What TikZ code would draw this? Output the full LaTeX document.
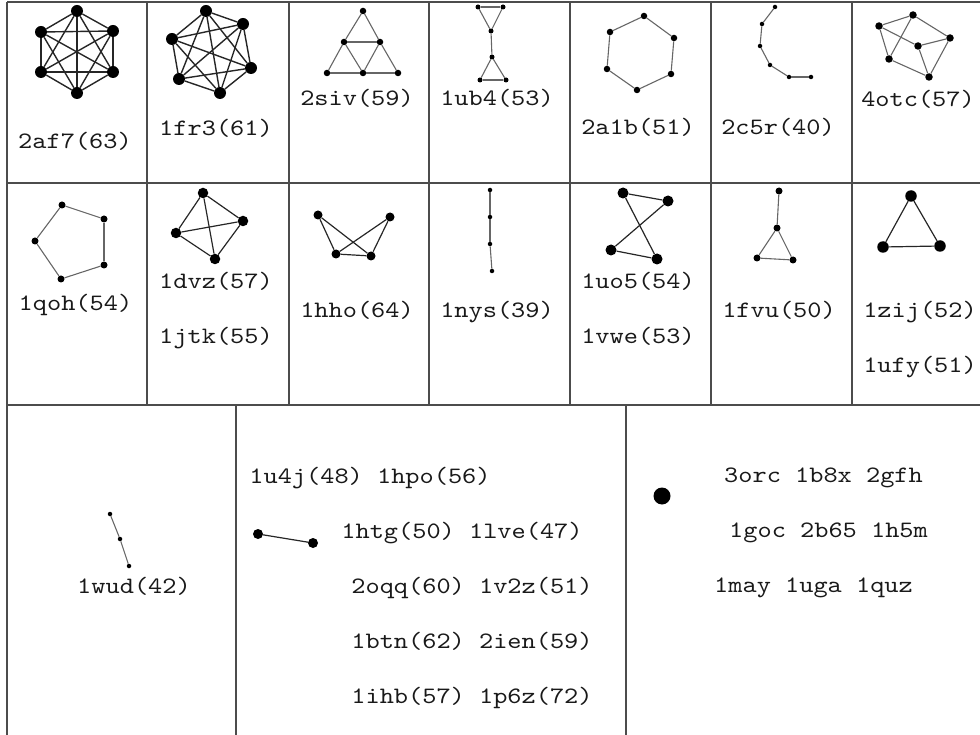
\documentclass[tikz,border=0pt]{standalone}
\usepackage{fontspec}
\newfontfamily\lblfont[FakeStretch=1.15]{lmmono10-regular.otf}
\begin{document}
\begin{tikzpicture}[x=1pt,y=-1pt,
  grid/.style={draw=black!70, line width=1.8pt},
  vx/.style={circle, fill=black, inner sep=0pt, minimum size=#1},
  ebig/.style={draw=black!85, line width=1.4pt},
  esm/.style={draw=black!60, line width=1.1pt},
  lbl/.style={font=\lblfont\fontsize{23.5}{28}\selectfont, anchor=base, inner sep=0pt, text=black!90}]
\useasboundingbox (0,0) rectangle (980,735);
% grid lines
\draw[grid] (7,2) -- (980,2);
\draw[grid] (7,183) -- (980,183);
\draw[grid] (7,405) -- (980,405);
\draw[grid] (7,2) -- (7,735);
\foreach \x in {147,289,429,570,711,852} \draw[grid] (\x,2) -- (\x,405);
\foreach \x in {236,626} \draw[grid] (\x,405) -- (\x,735);

% 2af7 K6
\node[vx=12pt] (a1) at (77,11) {};
\node[vx=12pt] (a2) at (113,31) {};
\node[vx=12pt] (a3) at (113,72) {};
\node[vx=12pt] (a4) at (77,93) {};
\node[vx=12pt] (a5) at (41,72) {};
\node[vx=12pt] (a6) at (41,32) {};
\foreach \i/\j in {1/2,1/3,1/4,1/5,1/6,2/3,2/4,2/5,2/6,3/4,3/5,3/6,4/5,4/6,5/6}
  \draw[ebig] (a\i) -- (a\j);
\node[lbl] (la) at (75,149) {2af7(63)};

% 1fr3 K6
\node[vx=12pt] (b1) at (206,11) {};
\node[vx=12pt] (b2) at (243,24) {};
\node[vx=12pt] (b3) at (251,68) {};
\node[vx=12pt] (b4) at (220,93) {};
\node[vx=12pt] (b5) at (179,79) {};
\node[vx=12pt] (b6) at (172,39) {};
\foreach \i/\j in {1/2,1/3,1/4,1/5,1/6,2/3,2/4,2/5,2/6,3/4,3/5,3/6,4/5,4/6,5/6}
  \draw[ebig] (b\i) -- (b\j);
\node[lbl] (lb) at (216,136) {1fr3(61)};

% 2siv
\node[vx=6.5pt] (c1) at (363,11) {};
\node[vx=6.5pt] (c2) at (344,42) {};
\node[vx=6.5pt] (c3) at (380,42) {};
\node[vx=6.5pt] (c4) at (327,73) {};
\node[vx=6.5pt] (c5) at (363,73) {};
\node[vx=6.5pt] (c6) at (398,73) {};
\foreach \i/\j in {1/2,1/3,2/3,2/4,2/5,3/5,3/6,4/5,5/6}
  \draw[esm] (c\i) -- (c\j);
\node[lbl] (lc) at (357,106) {2siv(59)};

% 1ub4
\node[vx=5pt] (d1) at (478,7) {};
\node[vx=5pt] (d2) at (503,7) {};
\node[vx=5pt] (d3) at (491,31) {};
\node[vx=5pt] (d4) at (492,57) {};
\node[vx=5pt] (d5) at (480,80) {};
\node[vx=5pt] (d6) at (506,80) {};
\foreach \i/\j in {1/2,1/3,2/3,3/4,4/5,4/6,5/6}
  \draw[esm] (d\i) -- (d\j);
\node[lbl] (ld) at (497,106) {1ub4(53)};

% 2a1b
\node[vx=6.5pt] (e1) at (644,16) {};
\node[vx=6.5pt] (e2) at (674,38) {};
\node[vx=6.5pt] (e3) at (671,74) {};
\node[vx=6.5pt] (e4) at (637,90) {};
\node[vx=6.5pt] (e5) at (607,69) {};
\node[vx=6.5pt] (e6) at (610,32) {};
\foreach \i/\j in {1/2,2/3,3/4,4/5,5/6,6/1}
  \draw[esm] (e\i) -- (e\j);
\node[lbl] (le) at (638,135) {2a1b(51)};

% 2c5r
\node[vx=4.5pt] (f1) at (775,7) {};
\node[vx=4.5pt] (f2) at (762,24) {};
\node[vx=4.5pt] (f3) at (760,46) {};
\node[vx=4.5pt] (f4) at (770,65) {};
\node[vx=4.5pt] (f5) at (789,77) {};
\node[vx=4.5pt] (f6) at (811,77) {};
\foreach \i/\j in {1/2,2/3,3/4,4/5,5/6}
  \draw[esm] (f\i) -- (f\j);
\node[lbl] (lf) at (778,135) {2c5r(40)};

% 4otc
\node[vx=7.5pt] (g1) at (913,15) {};
\node[vx=7.5pt] (g2) at (879,26) {};
\node[vx=7.5pt] (g3) at (950,38) {};
\node[vx=7.5pt] (g4) at (918,46) {};
\node[vx=7.5pt] (g5) at (889,59) {};
\node[vx=7.5pt] (g6) at (929,77) {};
\foreach \i/\j in {2/1,1/3,2/4,4/3,1/5,2/5,5/6,4/6,3/6}
  \draw[esm] (g\i) -- (g\j);
\node[lbl] (lg) at (918,107) {4otc(57)};

% 1qoh
\node[vx=7pt] (h1) at (62,205) {};
\node[vx=7pt] (h2) at (104,219) {};
\node[vx=7pt] (h3) at (104,265) {};
\node[vx=7pt] (h4) at (61,279) {};
\node[vx=7pt] (h5) at (35,241) {};
\foreach \i/\j in {1/2,2/3,3/4,4/5,5/1}
  \draw[esm] (h\i) -- (h\j);
\node[lbl] (lh) at (75.5,311) {1qoh(54)};

% 1dvz K4
\node[vx=10.5pt] (i1) at (203,193) {};
\node[vx=10.5pt] (i2) at (243,221) {};
\node[vx=10.5pt] (i3) at (215,259) {};
\node[vx=10.5pt] (i4) at (176,233) {};
\foreach \i/\j in {1/2,1/3,1/4,2/3,2/4,3/4}
  \draw[ebig, line width=1.2pt] (i\i) -- (i\j);
\node[lbl] (li1) at (216,289) {1dvz(57)};
\node[lbl] (li2) at (216,344) {1jtk(55)};

% 1hho
\node[vx=9pt] (j1) at (318,215) {};
\node[vx=9pt] (j2) at (390,217) {};
\node[vx=9pt] (j3) at (336,254) {};
\node[vx=9pt] (j4) at (371,256) {};
\foreach \i/\j in {1/3,1/4,2/3,2/4,3/4}
  \draw[ebig, line width=1.2pt] (j\i) -- (j\j);
\node[lbl] (lj) at (357,318) {1hho(64)};

% 1nys
\node[vx=4.5pt] (k1) at (490,190) {};
\node[vx=4.5pt] (k2) at (490,217) {};
\node[vx=4.5pt] (k3) at (490,244) {};
\node[vx=4.5pt] (k4) at (492,271) {};
\foreach \i/\j in {1/2,2/3,3/4}
  \draw[esm] (k\i) -- (k\j);
\node[lbl] (lk) at (497,318) {1nys(39)};

% 1uo5
\node[vx=11pt] (l1) at (623,193) {};
\node[vx=11pt] (l2) at (668,201) {};
\node[vx=11pt] (l3) at (611,250) {};
\node[vx=11pt] (l4) at (657,259) {};
\foreach \i/\j in {1/2,1/4,2/3,3/4}
  \draw[ebig, line width=1.2pt] (l\i) -- (l\j);
\node[lbl] (ll1) at (638,289) {1uo5(54)};
\node[lbl] (ll2) at (638,344) {1vwe(53)};

% 1fvu
\node[vx=7pt] (m1) at (779,191) {};
\node[vx=7pt] (m2) at (777,228) {};
\node[vx=7pt] (m3) at (757,258) {};
\node[vx=7pt] (m4) at (793,260) {};
\foreach \i/\j in {1/2,2/3,2/4,3/4}
  \draw[esm] (m\i) -- (m\j);
\node[lbl] (lm) at (779,318) {1fvu(50)};

% 1zij
\node[vx=11.5pt] (n1) at (911,196) {};
\node[vx=11.5pt] (n2) at (883,247) {};
\node[vx=11.5pt] (n3) at (940,246) {};
\foreach \i/\j in {1/2,2/3,3/1}
  \draw[ebig, line width=1.2pt] (n\i) -- (n\j);
\node[lbl] (ln1) at (920,318) {1zij(52)};
\node[lbl] (ln2) at (920,372) {1ufy(51)};

% 1wud
\node[vx=4.5pt] (o1) at (110,514) {};
\node[vx=4.5pt] (o2) at (120,539) {};
\node[vx=4.5pt] (o3) at (129,566) {};
\foreach \i/\j in {1/2,2/3}
  \draw[esm] (o\i) -- (o\j);
\node[lbl] (lo) at (134,593) {1wud(42)};

% single edge
\node[vx=10pt] (p1) at (258,534) {};
\node[vx=10pt] (p2) at (313,543) {};
\draw[ebig, line width=1.2pt] (p1) -- (p2);
\node[lbl] (lp1) at (370,483) {1u4j(48) 1hpo(56)};
\node[lbl] (lp2) at (462,538) {1htg(50) 1lve(47)};
\node[lbl] (lp3) at (472,593) {2oqq(60) 1v2z(51)};
\node[lbl] (lp4) at (472,648) {1btn(62) 2ien(59)};
\node[lbl] (lp5) at (472,703) {1ihb(57) 1p6z(72)};

% single vertex
\node[vx=17pt] (q1) at (662,496) {};
\node[lbl] (lq1) at (823.5,482) {3orc 1b8x 2gfh};
\node[lbl] (lq2) at (828.5,537) {1goc 2b65 1h5m};
\node[lbl] (lq3) at (813.5,592) {1may 1uga 1quz};
\end{tikzpicture}
\end{document}
